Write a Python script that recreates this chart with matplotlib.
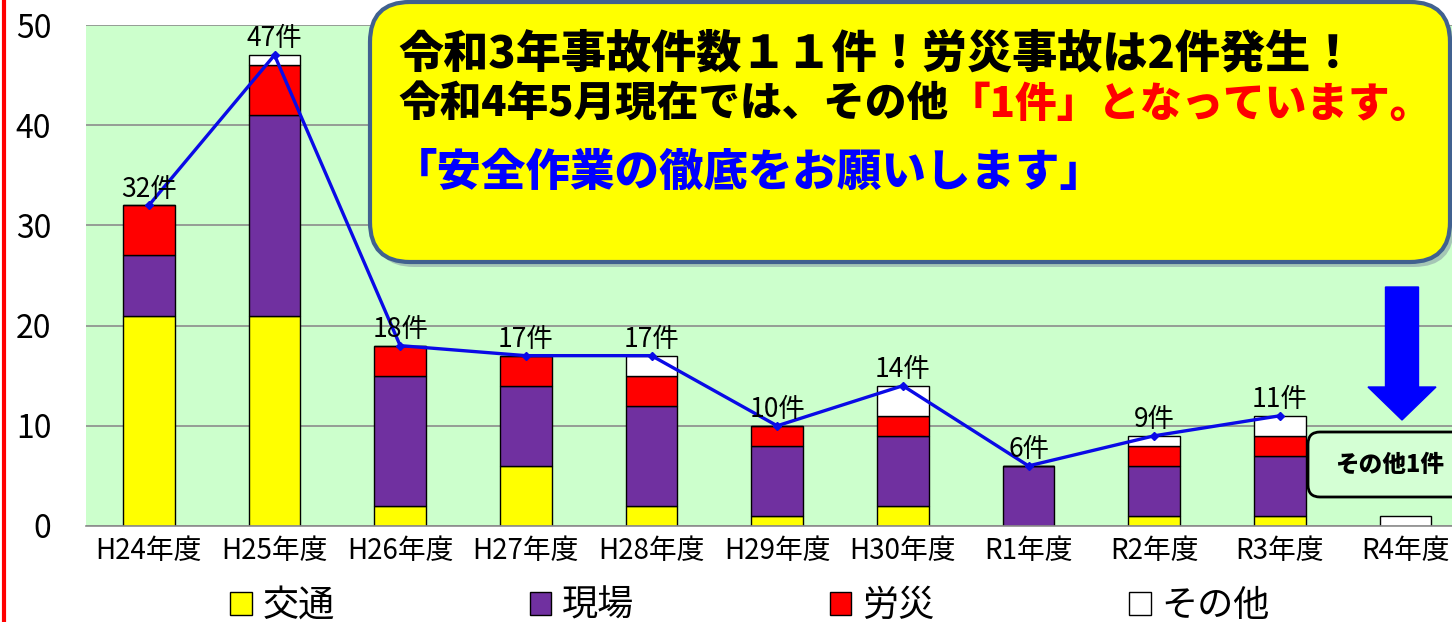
import numpy as np
import matplotlib
matplotlib.use("Agg")
import matplotlib.pyplot as plt
from matplotlib.patches import FancyBboxPatch, FancyArrow, Rectangle
from matplotlib.lines import Line2D
from matplotlib.text import Annotation

plt.rcParams['font.family'] = ['Noto Sans CJK JP', 'DejaVu Sans']

# data
years = ["H24年度", "H25年度", "H26年度", "H27年度", "H28年度", "H29年度",
         "H30年度", "R1年度", "R2年度", "R3年度", "R4年度"]
kotsu = [21, 21, 2, 6, 2, 1, 2, 0, 1, 1, 0]      # 交通
genba = [6, 20, 13, 8, 10, 7, 7, 6, 5, 6, 0]     # 現場
rosai = [5, 5, 3, 3, 3, 2, 2, 0, 2, 2, 0]        # 労災
sonota = [0, 1, 0, 0, 2, 0, 3, 0, 1, 2, 1]       # その他
totals = [32, 47, 18, 17, 17, 10, 14, 6, 9, 11]  # 折れ線 (R4は無し)
total_labels = ["32件", "47件", "18件", "17件", "17件", "10件", "14件", "6件", "9件", "11件"]

series = [("交通", kotsu, "#FFFF00"), ("現場", genba, "#7030A0"),
          ("労災", rosai, "#FF0000"), ("その他", sonota, "#FFFFFF")]

fig = plt.figure(figsize=(14.52, 6.22), dpi=100)
ax = fig.add_axes([86/1452, 1-526/622, (1452-86)/1452, (526-25)/622])
ax.set_facecolor("#CCFFCC")

x = np.arange(len(years))
bottom = np.zeros(len(years))
handles = []
for name, vals, col in series:
    vals = np.array(vals, dtype=float)
    ax.bar(x, vals, 0.41, bottom=bottom, color=col, edgecolor="black", linewidth=1, zorder=2)
    bottom += vals
    handles.append(Rectangle((0, 0), 1, 1, facecolor=col, edgecolor="black", linewidth=1))

xl = np.arange(len(totals))
ax.plot(xl, totals, color="#0A0AE6", lw=2.4, marker="D", ms=4.5, zorder=3)
for xi, t, lab in zip(xl, totals, total_labels):
    ax.annotate(lab, (xi, t), xytext=(0, 2), textcoords="offset points",
                ha="center", va="bottom", fontsize=19, zorder=4)

ax.set_xlim(-0.5, 10.37)
ax.set_ylim(0, 50)
ax.set_yticks(range(0, 51, 10))
ax.set_xticks(x)
ax.set_xticklabels(years, fontsize=20)
ax.tick_params(axis="y", length=0, labelsize=23, pad=25)
ax.tick_params(axis="x", length=0, pad=7)
ax.yaxis.grid(True, color="#8C8C8C", lw=1.2)
ax.set_axisbelow(True)
for s in ["top", "right", "left"]:
    ax.spines[s].set_visible(False)
ax.spines["bottom"].set_color("#8C8C8C")
ax.spines["bottom"].set_linewidth(1.2)

# red line on the left edge
fig.add_artist(Line2D([0.003, 0.003], [0, 1], color="red", lw=3))

# legend
fig.legend(handles, [s[0] for s in series], loc="center left",
           bbox_to_anchor=(230/1452, 0.026), ncol=4, frameon=False, fontsize=26,
           handlelength=0.6, handleheight=0.6, handletextpad=0.3,
           columnspacing=5.4, borderpad=0, borderaxespad=0)

# yellow callout
inch = fig.dpi_scale_trans
shadow = FancyBboxPatch((3.74, 3.55), 10.80, 2.60, boxstyle="round,pad=0,rounding_size=0.4",
                        facecolor="#7F8FA0", edgecolor="none", alpha=0.5, transform=inch)
fig.add_artist(shadow)
callout = FancyBboxPatch((3.70, 3.60), 10.80, 2.60, boxstyle="round,pad=0,rounding_size=0.4",
                         facecolor="#FFFF00", edgecolor="#41618F", lw=3, transform=inch)
fig.add_artist(callout)

fig.text(398/1452, 1-54/622, "令和3年事故件数１１件！労災事故は2件発生！",
         fontsize=32.5, fontweight="heavy", va="center", ha="left")
t2 = fig.text(398/1452, 1-126/622, "令和4年5月現在では、その他",
              fontsize=30, fontweight="heavy", va="bottom", ha="left")
fig.add_artist(Annotation(
    "「1件」となっています。", xy=(1, 0), xycoords=t2, va="bottom", ha="left",
    fontsize=30, fontweight="heavy", color="#FF0000"))
fig.text(393/1452, 1-172/622, "「安全作業の徹底をお願いします」",
         fontsize=32, fontweight="heavy", va="center", ha="left", color="#0000FF")

# blue arrow and その他1件 box
fig.add_artist(FancyArrow(14.02, 3.35, 0, -1.33, width=0.33, head_width=0.68,
                          head_length=0.33, length_includes_head=True,
                          color="#0000FF", transform=inch))
fig.add_artist(FancyBboxPatch((13.08, 1.25), 1.60, 0.65, boxstyle="round,pad=0,rounding_size=0.12",
                              facecolor="#D4FFD4", edgecolor="black", lw=2, transform=inch))
fig.text(13.90/14.52, 1.57/6.22, "その他1件", fontsize=17, fontweight="heavy",
         ha="center", va="center")

plt.savefig("out.png", dpi=100)
